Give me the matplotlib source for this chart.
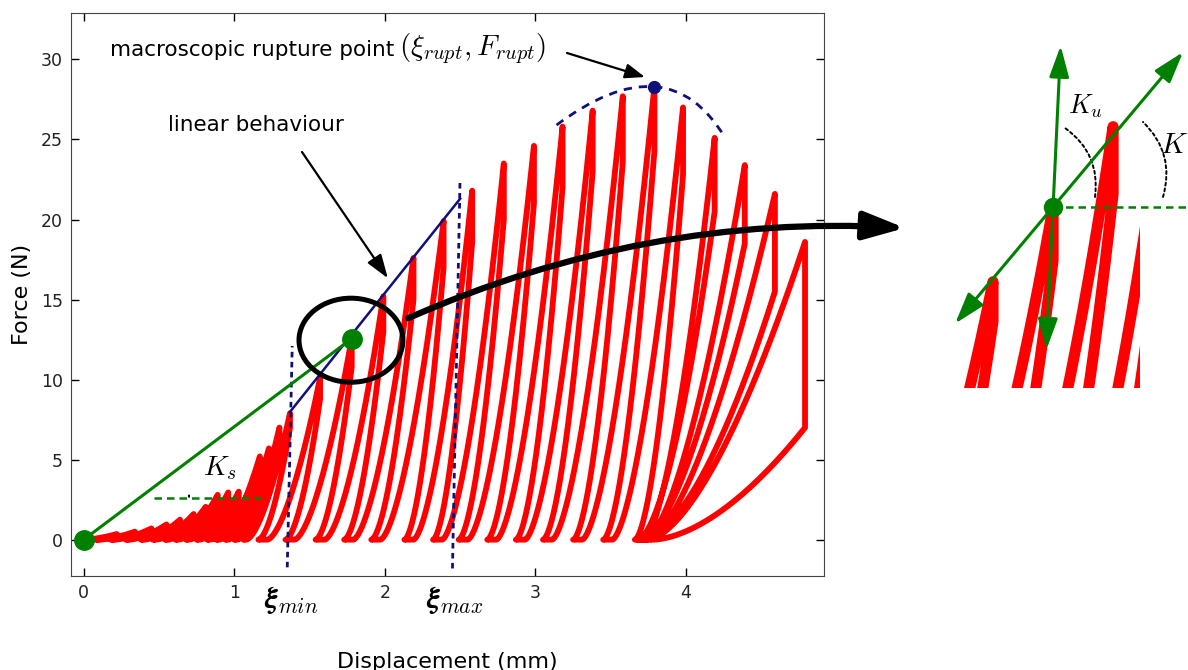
import numpy as np
import matplotlib
matplotlib.use("Agg")
import matplotlib.pyplot as plt
from matplotlib.patches import Ellipse, Arc, PathPatch
from matplotlib.path import Path

plt.rcParams['mathtext.fontset'] = 'cm'
plt.rcParams['font.family'] = ['DejaVu Sans']

# ---------------------------------------------------------------------------
# Cyclic loading test: one entry per cycle
peak_x = [0.22, 0.34, 0.45, 0.55, 0.64, 0.73, 0.81, 0.89, 0.96, 1.03, 1.10, 1.17, 1.23, 1.30,
          1.37, 1.57, 1.78, 1.99, 2.19, 2.39, 2.58, 2.79, 2.99, 3.18, 3.38, 3.58, 3.79,
          3.98, 4.19, 4.39, 4.59, 4.79]                      # displacement at peak (mm)
peak_f = [0.35, 0.5, 0.7, 0.95, 1.25, 1.6, 2.05, 2.8, 2.95, 3.0, 3.05, 5.2, 5.7, 7.0,
          7.9, 10.1, 12.56, 15.2, 17.6, 19.9, 21.8, 23.5, 24.6, 25.8, 26.8, 27.7, 28.3,
          27.0, 25.1, 23.4, 21.6, 18.6]                      # peak force (N)
start_x = [0.0, 0.10, 0.20, 0.30, 0.40, 0.48, 0.56, 0.63, 0.70, 0.77, 0.84, 0.90, 0.96, 1.02,
           1.08, 1.22, 1.40, 1.60, 1.79, 1.97, 2.19, 2.38, 2.55, 2.74, 2.93, 3.11, 3.31,
           3.51, 3.72, 3.73, 3.74, 3.75]                     # displacement where loading starts (mm)
drop_f = [0.3, 0.42, 0.6, 0.8, 1.05, 1.35, 1.75, 2.4, 2.5, 2.55, 2.6, 4.4, 4.9, 6.0,
          7.0, 8.8, 10.8, 13.0, 15.0, 17.0, 18.6, 20.0, 21.0, 22.0, 23.0, 23.6, 24.3,
          22.8, 20.5, 18.5, 15.5, 7.0]                       # force at end of the sudden unloading drop (N)
unload_end_x = [0.08, 0.18, 0.28, 0.38, 0.46, 0.54, 0.61, 0.68, 0.75, 0.82, 0.88, 0.94, 1.00, 1.06,
                1.16, 1.34, 1.54, 1.73, 1.91, 2.13, 2.32, 2.49, 2.68, 2.87, 3.05, 3.25, 3.45,
                3.66, 3.68, 3.70, 3.71, 3.78]                # displacement where the force returns to zero (mm)

# Characteristic points and lines
secant_x = [0.0, 1.78]          # secant stiffness K_s
secant_f = [0.0, 12.56]
linear_x = [1.37, 2.50]         # linear behaviour
linear_f = [7.98, 21.3]
xi_min_x = [1.352, 1.385]
xi_min_f = [-1.73, 12.1]
xi_max_x = [2.449, 2.499]
xi_max_f = [-1.8, 22.4]
rupt_x, rupt_f = 3.79, 28.3
envelope_x = [3.14, 3.79, 4.26]
envelope_f = [25.9, 28.3, 25.1]
ks_level = 2.6
ks_span = [0.47, 1.19]
K_slope = 11.2                  # tangent stiffness at the highlighted point
Ku_slope = 200.0                # unloading stiffness


def cycle_path(i, n=1.6, m=1.7, k=90):
    """Loading from start_x to the peak, sudden drop, then unloading back to zero force."""
    s, p, fp, fd, e = start_x[i], peak_x[i], peak_f[i], drop_f[i], unload_end_x[i]
    t = np.linspace(0, 1, k) ** 2
    xl = s + (p - s) * t ** (1 / n)
    fl = fp * t
    tu = t[::-1]
    xu = np.concatenate([[p], e + (p - e) * tu ** (1 / m)])
    fu = np.concatenate([[fp], fd * tu])
    return np.concatenate([xl, xu]), np.concatenate([fl, fu])


parts = [cycle_path(i) for i in range(len(peak_x))]
curve_x = np.concatenate([c[0] for c in parts])
curve_f = np.concatenate([c[1] for c in parts])

W, H = 1188, 670
fig = plt.figure(figsize=(W / 100, H / 100), dpi=100)


def fpx(x, y):
    return (x / W, 1 - y / H)


ax = fig.add_axes([71 / W, 1 - 576 / H, (824 - 71) / W, (576 - 13) / H])
ax.plot(curve_x, curve_f, color='red', lw=4.2, solid_joinstyle='round', zorder=2)
ax.set_xlim(-0.084, 4.916)
ax.set_ylim(-2.27, 32.9)
ax.set_xticks([0, 1, 2, 3, 4])
ax.set_yticks([0, 5, 10, 15, 20, 25, 30])
ax.tick_params(direction='in', top=True, right=True, length=6, width=1,
               labelsize=12.5, labelcolor='#222222', pad=6)
for sp in ax.spines.values():
    sp.set_color('#444444')
ax.set_xlabel('Displacement (mm)', fontsize=16, labelpad=36)
ax.set_ylabel('Force (N)', fontsize=16, labelpad=6)

# secant and linear behaviour
ax.plot(secant_x, secant_f, color='g', lw=2.2, zorder=4)
ax.plot(secant_x, secant_f, 'o', color='g', ms=14, zorder=5, clip_on=False)
ax.plot(linear_x, linear_f, color='#10107a', lw=1.8, zorder=3)
ax.plot(xi_min_x, xi_min_f, color='#10107a', lw=2, ls=(0, (2, 1.6)), zorder=3)
ax.plot(xi_max_x, xi_max_f, color='#10107a', lw=2, ls=(0, (2, 1.6)), zorder=3)

# peak envelope around the rupture point
A = np.array([envelope_x[0], envelope_f[0]])
B = np.array([envelope_x[1], envelope_f[1]])
C = np.array([envelope_x[2], envelope_f[2]])
ctrl = 2 * B - 0.5 * (A + C)
env = Path([tuple(A), tuple(ctrl), tuple(C)], [Path.MOVETO, Path.CURVE3, Path.CURVE3])
ax.add_patch(PathPatch(env, fill=False, ec='#10107a', lw=2, ls=(0, (3, 2.5)), zorder=3))
ax.plot([rupt_x], [rupt_f], 'o', color='#10107a', ms=8.5, zorder=5)

# K_s angle marker
ax.plot(ks_span, [ks_level, ks_level], color='g', lw=1.8, ls=(0, (3, 2)), zorder=4)
ax.add_patch(Arc((0.368, ks_level), 100 / 150.6, 100 / 16, theta1=5, theta2=37,
                 color='k', lw=1.4, ls=(0, (1.5, 1.5)), zorder=4))
fig.text(*fpx(220, 468), r'$K_s$', fontsize=20, ha='center', va='center')

# highlighted region
ax.add_patch(Ellipse((1.775, 12.46), 0.69, 5.25, fill=False, ec='k', lw=3.6, zorder=6))
ax.annotate('', xy=fpx(905, 228), xycoords='figure fraction',
            xytext=(2.154, 13.83), textcoords='data',
            arrowprops=dict(arrowstyle='-|>,head_length=2.5,head_width=0.85',
                            mutation_scale=10, lw=4.5, color='k',
                            shrinkA=0, shrinkB=0, connectionstyle='arc3,rad=-0.12'),
            annotation_clip=False, zorder=7)

# annotations
fig.text(*fpx(110, 50), 'macroscopic rupture point', fontsize=15.5, ha='left', va='center')
fig.text(*fpx(399, 49), r'$(\xi_{rupt}, F_{rupt})$', fontsize=21, ha='left', va='center')
ax.annotate('', xy=(3.727, 28.9), xycoords='data',
            xytext=fpx(567, 53), textcoords='figure fraction',
            arrowprops=dict(arrowstyle='-|>,head_length=1.2,head_width=0.45',
                            mutation_scale=10, lw=1.6, color='k', shrinkA=0, shrinkB=0))
fig.text(*fpx(168, 125), 'linear behaviour', fontsize=15.5, ha='left', va='center')
ax.annotate('', xy=(2.02, 16.33), xycoords='data',
            xytext=fpx(302, 152), textcoords='figure fraction',
            arrowprops=dict(arrowstyle='-|>,head_length=1.45,head_width=0.5',
                            mutation_scale=10, lw=1.6, color='k', shrinkA=0, shrinkB=0))
fig.text(*fpx(291, 600), r'$\boldsymbol{\xi}_{min}$', fontsize=22, ha='center', va='center')
fig.text(*fpx(455, 600), r'$\boldsymbol{\xi}_{max}$', fontsize=22, ha='center', va='center')

# magnified view around the highlighted point
dot_x, dot_f = secant_x[1], secant_f[1]
ax2 = fig.add_axes([955 / W, 1 - 388 / H, 185 / W, 348 / H])
ax2.set_xlim(1.437, 2.084)
ax2.set_ylim(6.606, 18.05)
ax2.axis('off')
ax2.plot(curve_x, curve_f, color='red', lw=8, solid_joinstyle='round', zorder=2)
ax2.plot([dot_x, 2.26], [dot_f, dot_f], color='g', lw=1.8, ls=(0, (3, 2)),
         clip_on=False, zorder=3)
k_lo, k_hi = 1.4374, 2.2345
ax2.annotate('', xy=(k_hi, dot_f + K_slope * (k_hi - dot_x)),
             xytext=(k_lo, dot_f + K_slope * (k_lo - dot_x)),
             arrowprops=dict(arrowstyle='<|-|>,head_length=1.9,head_width=0.6',
                             mutation_scale=10, lw=2.2, color='g', shrinkA=0, shrinkB=0),
             annotation_clip=False, zorder=4)
u_lo, u_hi = 7.86, 17.86
ax2.annotate('', xy=(dot_x + (u_hi - dot_f) / Ku_slope, u_hi),
             xytext=(dot_x + (u_lo - dot_f) / Ku_slope, u_lo),
             arrowprops=dict(arrowstyle='<|-|>,head_length=1.9,head_width=0.6',
                             mutation_scale=10, lw=2.2, color='g', shrinkA=0, shrinkB=0),
             annotation_clip=False, zorder=4)
ax2.plot([dot_x], [dot_f], 'o', color='g', ms=13, zorder=5, clip_on=False)

for a, b in [((1065, 128), (1095, 197)), ((1143, 122), (1163, 197))]:
    ax2.annotate('', xy=(a[0], H - a[1]), xycoords='figure pixels',
                 xytext=(b[0], H - b[1]), textcoords='figure pixels',
                 arrowprops=dict(arrowstyle='-', lw=1.4, color='k', ls=(0, (1.5, 1.5)),
                                 shrinkA=0, shrinkB=0, connectionstyle='arc3,rad=0.3'),
                 annotation_clip=False)
fig.text(*fpx(1085, 106), r'$K_u$', fontsize=19, ha='center', va='center')
fig.text(*fpx(1160, 145), r'$K$', fontsize=21, ha='left', va='center')

fig.savefig('out.png', dpi=100)
